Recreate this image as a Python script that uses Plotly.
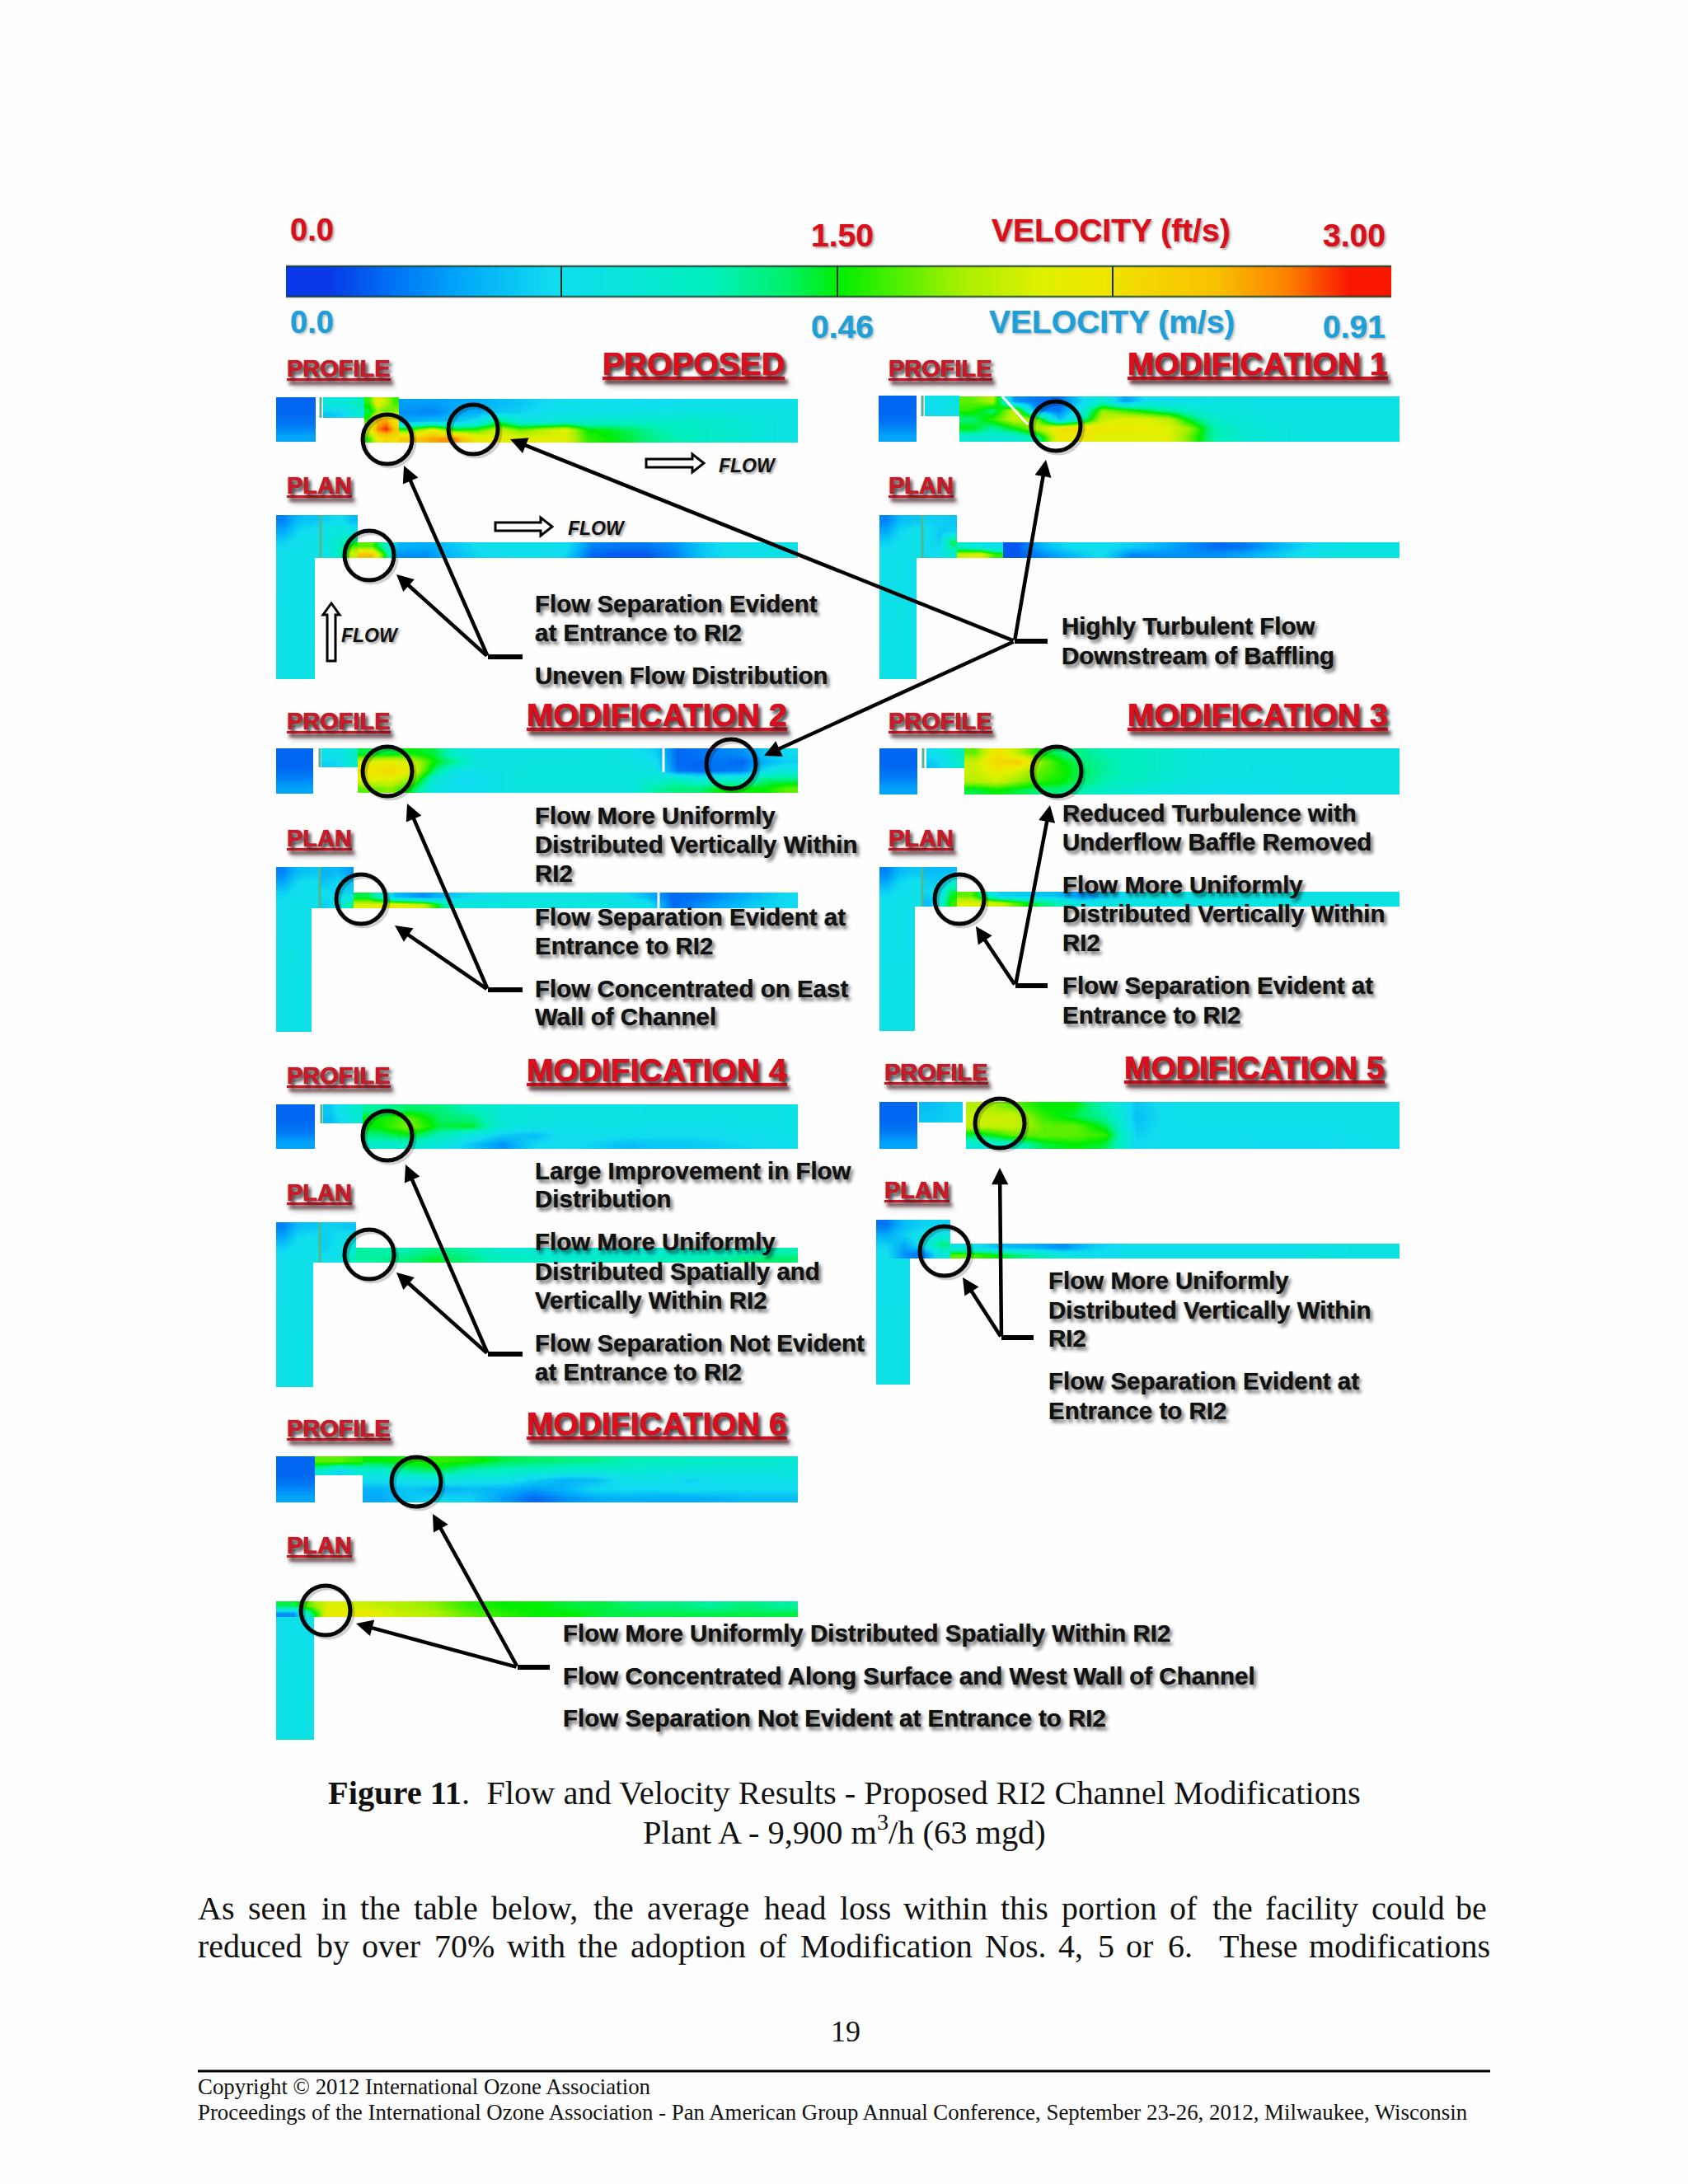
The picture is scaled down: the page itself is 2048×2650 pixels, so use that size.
import plotly.graph_objects as go
import numpy as np

# velocity colour scale, ft/s normalised by 3.00
COLORSCALE = [[0, "#0838e8"], [0.06, "#0070f4"], [0.13, "#00a8fa"], [0.22, "#10dcf0"], [0.3, "#08e8d8"], [0.38, "#00f0b8"],
              [0.45, "#00f068"], [0.5, "#00ee00"], [0.62, "#a8f000"], [0.7, "#e0f000"], [0.76, "#f0e400"], [0.87, "#f8c000"],
              [0.94, "#fc8000"], [1, "#f81800"]]

BAR_VALUES = [[0, .25, .5, .75, 1, 1.25, 1.5, 1.75, 2, 2.25, 2.5, 2.75, 3]]
INLET = [[0.15, 0.15], [0.15, 0.15], [0.22, 0.22], [0.38, 0.38]]
PLAN_INLET = [[.25, .5, .55], [.4, .65, .7], [.6, .7, .75], [.7, .75, .75]]
PLAN_STEM = [[0.72, 0.76, 0.72], [0.76, 0.78, 0.76]]

P0_CONN = [[.9, .85, 1.1], [.55, .65, .9]]
P0_RISER = [[1.6, 2.2, 1.9, 1.6], [1.4, 1.8, 1.7, 1.8], [1.6, 2.6, 2.7, 2.2], [2.2, 2.8, 3.0, 2.6], [1.6, 2.2, 2.4, 2.3]]
P0_MAIN = [[.35, .35, .4, .4, .5, .55, .65, .7, .7, .7, .7, .65, .7, .75, .75, .75, .75, .75],
           [.3, .25, .4, .4, .55, .6, .7, .75, .75, .75, .8, .8, .85, .85, .85, .8, .8, .8],
           [.4, .5, .5, .7, 1.3, .9, .85, .9, .95, 1.0, 1.0, 1.0, 1.0, 1.0, .95, .9, .85, .8],
           [1.6, 2.1, 1.5, 1.6, 2.0, 1.7, 1.9, 2.1, 1.5, 1.45, 1.35, 1.2, 1.1, 1.05, 1.0, .95, .85, .8],
           [2.5, 2.7, 2.8, 2.2, 2.2, 2.1, 2.1, 2.1, 1.6, 1.5, 1.4, 1.25, 1.15, 1.05, 1.0, .95, .85, .8]]
P0_PLANCONN = [[.6, .7, .5], [.8, .9, .8], [.85, 1.0, 1.4], [.8, 1.1, 2.0]]
P0_CHAN = [[1.7, .45, .4, .55, .7, .75, .75, .7, .25, .2, .2, .3, .55, .7, .75, .75],
           [2.6, .3, .3, .5, .65, .7, .7, .65, .15, .1, .1, .25, .55, .7, .75, .75]]

M1_CONN = [[.7, .8], [.65, .75]]
M1_MAIN = [[1.7, 1.9, .3, .2, .15, .6, 1.0, .35, .7, .7, .75, .8, .8, .75, .75, .75, .75, .75, .75, .75],
           [1.6, 1.3, 2.0, .25, .2, .8, 1.8, 1.6, 1.4, 1.2, 1.0, .85, .85, .8, .8, .8, .8, .8, .8, .8],
           [1.3, 1.6, 2.0, 1.8, .5, 1.1, 2.0, 2.1, 2.1, 1.95, 1.4, 1.05, .9, .85, .8, .8, .8, .8, .8, .8],
           [1.5, 1.2, 1.5, 1.9, 2.3, 2.4, 2.2, 2.2, 2.15, 2.1, 1.8, 1.2, 1.0, .9, .85, .8, .8, .8, .8, .8],
           [.95, .9, .9, 1.2, 2.2, 2.2, 2.1, 2.1, 2.1, 2.1, 1.7, 1.2, 1.0, .9, .85, .8, .8, .8, .8, .8]]
M1_PLANCONN = [[.6, .6, .55], [.7, .55, .6], [.65, .6, 1.4], [.65, .7, 1.0]]
M1_CHAN_A = [[1.0, .8, .7], [2.0, 2.1, 1.6]]
M1_CHAN_B = [[.1, .5, .7, .7, .6, .45, .3, .15, .2, .4, .6, .75, .8, .8],
             [.1, .3, .5, .7, .25, .3, .3, .3, .4, .55, .7, .8, .8, .8]]

M2_CONN = [[.75, .75, 1.0], [.6, .65, 1.0]]
M2_MAIN = [[1.4, 1.4, 1.5, 1.4, .95, .8, .8, .8, .8, .8, .85, .85, .7, .6, .15, .2, .25, .3, .55, .65],
           [2.1, 2.2, 2.0, 1.5, 1.2, .85, .8, .8, .85, .85, .85, .85, .8, .7, .15, .15, .2, .15, .45, .6],
           [2.3, 2.4, 2.1, 1.3, .75, .75, .8, .85, .85, .85, .85, .85, .85, .8, .2, .15, .2, .25, .7, .85],
           [2.1, 2.1, 1.8, .9, .65, .65, .8, .85, .85, .85, .85, .85, .85, .95, 1.1, .9, 1.0, 1.0, 1.3, 1.3],
           [1.7, 1.8, 1.4, .8, .7, .7, .8, .85, .85, .85, .85, .85, .85, 1.2, 1.3, 1.3, 1.5, 1.5, 1.5, 1.7]]
M2_PLANCONN = [[.45, .5, .35], [.55, .65, .55], [.7, .6, .6], [.6, .7, 1.2]]
M2_CHAN = [[1.4, .5, .3, .55, .7, .8, .8, .8, .8, .75, .5, .15, .2, .35, .5, .65],
           [2.1, 2.2, 2.0, 1.0, .85, .85, .85, .85, .85, .8, .8, .15, .3, .45, .6, .65]]

M3_CONN = [[.7, .85, 1.1], [.55, .7, 1.0]]
M3_MAIN = [[1.7, 2.3, 1.9, 1.5, 1.3, 1.25, 1.15, 1.1, 1.05, .95, .85, .8, .78, .78, .78, .78, .78, .78, .78, .78],
           [2.0, 2.4, 2.5, 1.8, 1.5, 1.3, 1.2, 1.1, 1.05, .95, .85, .82, .8, .78, .78, .78, .78, .78, .78, .78],
           [2.0, 2.2, 2.0, 1.7, 1.55, 1.35, 1.2, 1.1, 1.05, .95, .85, .8, .8, .78, .78, .78, .78, .78, .78, .78],
           [1.9, 2.0, 1.8, 1.6, 1.5, 1.3, 1.15, 1.05, 1.0, .9, .85, .78, .78, .75, .75, .78, .78, .78, .78, .78],
           [1.4, 1.5, 1.4, 1.3, 1.3, 1.15, 1.05, .95, .85, .8, .75, .7, .7, .7, .75, .75, .75, .78, .78, .78]]
M3_PLANCONN = [[.5, .5, .5], [.6, .55, .9], [.65, .7, 1.4], [.5, .9, 1.6]]
M3_CHAN = [[1.7, .6, .55, .5, .3, .55, .75, .8, .8, .8, .8, .8, .8, .8, .8, .8],
           [2.1, 2.0, 1.5, 1.2, .8, .8, .8, .8, .8, .8, .8, .8, .8, .8, .8, .8]]

M4_CONN = [[.55, .8, 1.0], [.5, .7, .9]]
M4_MAIN = [[1.2, 1.35, 1.3, 1.1, .9, .85, .8, .8, .8, .78, .78, .78, .78, .78],
           [1.5, 1.7, 1.35, 1.3, .9, .85, .8, .8, .8, .78, .78, .78, .78, .78],
           [1.5, 1.8, 1.4, 1.45, .9, .75, .75, .78, .75, .72, .72, .72, .75, .78],
           [1.3, 1.45, 1.1, .8, .55, .5, .7, .7, .68, .65, .65, .68, .7, .75],
           [1.0, 1.0, .85, .55, .3, .65, .7, .6, .5, .55, .55, .6, .65, .7]]
M4_PLANCONN = [[.6, .6, .55], [.6, .7, .75], [.6, .75, .9], [.7, .75, 1.1]]
M4_CHAN = [[1.2, 1.15, 1.3, 1.2, 1.0, .95, .9, .95, .9, .95, 1.0, 1.05, 1.1, 1.15],
           [1.2, 1.3, 1.45, 1.3, 1.1, 1.05, 1.0, 1.0, 1.05, 1.1, 1.15, 1.2, 1.3, 1.35]]

M5_CONN = [[.5, .6], [.55, .6]]
M5_MAIN = [[1.9, 1.7, 1.5, 1.5, 1.1, .55, .7, .75, .75, .75, .75, .75, .75, .75],
           [2.0, 2.0, 1.6, 1.4, 1.2, .5, .7, .75, .75, .75, .75, .75, .75, .75],
           [2.0, 2.0, 1.7, 1.7, 1.4, .55, .7, .72, .72, .72, .72, .72, .75, .75],
           [1.4, 1.7, 1.7, 1.7, 1.6, .6, .7, .7, .7, .7, .7, .7, .72, .75],
           [.9, 1.0, 1.4, 1.5, 1.4, .65, .7, .7, .7, .65, .65, .65, .7, .72]]
M5_PLANTOP = [[.2, .5, .6, .6], [.4, .6, .75, .8], [.6, .4, .8, 1.3], [.7, .3, .2, .9]]
M5_CHAN = [[.8, .5, .45, .3, .6, .7, .7, .7, .7, .7, .7, .75, .8, .8],
           [1.7, 1.5, 1.2, .9, .7, .7, .7, .7, .7, .7, .75, .8, .8, .8]]

M6_CONN = [[1.7, 1.7, 1.6], [1.0, .6, .9]]
M6_MAIN = [[1.5, 1.55, 1.6, 1.55, 1.4, 1.35, 1.3, 1.25, 1.15, 1.1, 1.05, 1.0, 1.0, .95],
           [1.0, 1.3, 1.4, 1.15, 1.1, 1.05, 1.0, .95, .95, .9, .9, .85, .85, .85],
           [.7, .75, .85, .75, .75, .6, .45, .5, .75, .75, .6, .75, .75, .75],
           [.45, .55, .4, .5, .45, .35, .45, .65, .65, .65, .7, .65, .65, .65],
           [.4, .55, .65, .6, .35, .15, .3, .4, .45, .4, .4, .45, .5, .5]]
M6_CHAN = [[1.4, 2.1, 2.0, 1.9, 1.8, 1.6, 1.5, 1.5, 1.4, 1.4, 1.3, 1.3, 1.2, 1.3, 1.2],
           [.3, 2.2, 2.2, 2.0, 1.9, 1.7, 1.6, 1.5, 1.5, 1.4, 1.4, 1.4, 1.4, 1.4, 1.4]]

# block extents: field, x0, x1, y0, y1
BLOCKS = [
    (BAR_VALUES, 347, 1688, 323, 360),
    (INLET, 335, 383, 482, 536), (P0_CONN, 392, 442, 482, 507), (P0_RISER, 442, 484, 482, 537), (P0_MAIN, 484, 968, 484, 537),
    (PLAN_STEM, 335, 382, 677, 824), (PLAN_INLET, 335, 388, 625, 677), (P0_PLANCONN, 390, 434, 625, 677), (P0_CHAN, 434, 968, 658, 677),
    (INLET, 1066, 1112, 480, 536), (M1_CONN, 1122, 1164, 480, 505), (M1_MAIN, 1164, 1698, 481, 536),
    (PLAN_STEM, 1067, 1112, 677, 824), (PLAN_INLET, 1067, 1118, 625, 677), (M1_PLANCONN, 1120, 1161, 625, 677),
    (M1_CHAN_A, 1161, 1217, 658, 677), (M1_CHAN_B, 1217, 1698, 658, 677),
    (INLET, 335, 380, 908, 963), (M2_CONN, 390, 434, 908, 931), (M2_MAIN, 434, 968, 908, 962),
    (PLAN_STEM, 335, 378, 1102, 1252), (PLAN_INLET, 335, 387, 1052, 1102), (M2_PLANCONN, 389, 429, 1052, 1102), (M2_CHAN, 429, 968, 1083, 1102),
    (INLET, 1067, 1113, 908, 964), (M3_CONN, 1124, 1170, 908, 932), (M3_MAIN, 1170, 1698, 908, 964),
    (PLAN_STEM, 1067, 1110, 1100, 1251), (PLAN_INLET, 1067, 1118, 1052, 1100), (M3_PLANCONN, 1120, 1161, 1052, 1100), (M3_CHAN, 1161, 1698, 1082, 1100),
    (INLET, 335, 382, 1340, 1394), (M4_CONN, 392, 440, 1340, 1363), (M4_MAIN, 440, 968, 1340, 1394),
    (PLAN_STEM, 335, 380, 1532, 1683), (PLAN_INLET, 335, 387, 1483, 1532), (M4_PLANCONN, 389, 432, 1483, 1532), (M4_CHAN, 432, 968, 1514, 1532),
    (INLET, 1067, 1113, 1337, 1394), (M5_CONN, 1115, 1168, 1337, 1362), (M5_MAIN, 1172, 1698, 1337, 1394),
    (PLAN_STEM, 1063, 1104, 1527, 1680), (M5_PLANTOP, 1063, 1153, 1480, 1527), (M5_CHAN, 1153, 1698, 1509, 1527),
    (INLET, 335, 382, 1767, 1823), (M6_CONN, 382, 440, 1767, 1790), (M6_MAIN, 440, 968, 1767, 1823),
    (PLAN_STEM, 335, 381, 1962, 2111), (M6_CHAN, 335, 968, 1943, 1962),
]

CIRCLES = [(470, 533), (574, 521), (448, 674), (1281, 517), (470, 936), (887, 927), (438, 1091), (1282, 936), (1164, 1091),
           (470, 1378), (448, 1522), (1213, 1363), (1146, 1518), (505, 1798), (395, 1954)]
# callouts: start x, start y, head x, head y
ARROWS = [(592, 797, 490, 565), (592, 797, 481, 697), (1231, 778, 619, 533), (1231, 778, 1269, 558), (1231, 778, 927, 917),
          (592, 1201, 494, 975), (592, 1201, 479, 1123), (1232, 1196, 1274, 977), (1232, 1196, 1184, 1124),
          (592, 1643, 492, 1413), (592, 1643, 481, 1544), (1215, 1623, 1213, 1417), (1215, 1623, 1168, 1550),
          (628, 2023, 525, 1837), (628, 2023, 432, 1970)]
BARS = [(592, 634, 797), (1231, 1271, 778), (592, 634, 1201), (1232, 1271, 1196), (592, 634, 1643), (1215, 1254, 1623), (628, 667, 2023)]
BAR_TICKS = [681, 1016, 1350]
SEP_LINES = [(389, 482, 507), (1119, 480, 505), (388, 908, 931), (1120, 908, 932), (390, 1340, 1363),
             (389, 625, 677), (1119, 625, 677), (388, 1052, 1102), (1119, 1052, 1100), (388, 1483, 1532)]
RED_LABELS = [("0.0", 353, 279, 38), ("1.50", 985, 285, 39), ("VELOCITY (ft/s)", 1204, 279, 39), ("3.00", 1606, 285, 39)]
BLUE_LABELS = [("0.0", 353, 391, 38), ("0.46", 985, 396, 39), ("VELOCITY (m/s)", 1201, 390, 39), ("0.91", 1606, 396, 39)]
HEADERS = [("PROPOSED", 732, 441), ("MODIFICATION 1", 1369, 441), ("MODIFICATION 2", 640, 867), ("MODIFICATION 3", 1369, 867),
           ("MODIFICATION 4", 640, 1298), ("MODIFICATION 5", 1365, 1295), ("MODIFICATION 6", 640, 1727)]
SUBHEADS = [("PROFILE", 349, 447), ("PLAN", 349, 589), ("PROFILE", 1079, 447), ("PLAN", 1079, 589),
            ("PROFILE", 349, 875), ("PLAN", 349, 1017), ("PROFILE", 1079, 875), ("PLAN", 1079, 1017),
            ("PROFILE", 349, 1305), ("PLAN", 349, 1447), ("PROFILE", 1074, 1301), ("PLAN", 1074, 1444),
            ("PROFILE", 349, 1733), ("PLAN", 349, 1875)]
NOTES = [("Flow Separation Evident", 650, 732), ("at Entrance to RI2", 650, 767), ("Uneven Flow Distribution", 650, 819),
         ("Highly Turbulent Flow", 1289, 759), ("Downstream of Baffling", 1289, 795),
         ("Flow More Uniformly", 650, 989), ("Distributed Vertically Within", 650, 1024), ("RI2", 650, 1059),
         ("Flow Separation Evident at", 650, 1112), ("Entrance to RI2", 650, 1147),
         ("Flow Concentrated on East", 650, 1199), ("Wall of Channel", 650, 1233),
         ("Reduced Turbulence with", 1290, 986), ("Underflow Baffle Removed", 1290, 1021),
         ("Flow More Uniformly", 1290, 1073), ("Distributed Vertically Within", 1290, 1108), ("RI2", 1290, 1143),
         ("Flow Separation Evident at", 1290, 1195), ("Entrance to RI2", 1290, 1231),
         ("Large Improvement in Flow", 650, 1420), ("Distribution", 650, 1454),
         ("Flow More Uniformly", 650, 1506), ("Distributed Spatially and", 650, 1542), ("Vertically Within RI2", 650, 1577),
         ("Flow Separation Not Evident", 650, 1629), ("at Entrance to RI2", 650, 1664),
         ("Flow More Uniformly", 1273, 1553), ("Distributed Vertically Within", 1273, 1589), ("RI2", 1273, 1623),
         ("Flow Separation Evident at", 1273, 1675), ("Entrance to RI2", 1273, 1711),
         ("Flow More Uniformly Distributed Spatially Within RI2", 684, 1981),
         ("Flow Concentrated Along Surface and West Wall of Channel", 684, 2033),
         ("Flow Separation Not Evident at Entrance to RI2", 684, 2084)]
FLOW_LABELS = [(873, 565), (690, 641), (415, 771)]
WHITE_LINES = [(1216, 481, 1247, 515), (805, 908, 805, 937), (799, 1083, 799, 1102)]
PARA1 = [("As", 241), ("seen", 302), ("in", 391), ("the", 438), ("table", 503), ("below,", 597), ("the", 721), ("average", 786),
         ("head", 928), ("loss", 1020), ("within", 1097), ("this", 1215), ("portion", 1289), ("of", 1420), ("the", 1472),
         ("facility", 1536), ("could", 1665), ("be", 1767)]
PARA2 = [("reduced", 241), ("by", 385), ("over", 440), ("70%", 528), ("with", 616), ("the", 702), ("adoption", 766), ("of", 922),
         ("Modification", 972), ("Nos.", 1196), ("4,", 1285), ("5", 1333), ("or", 1367), ("6.", 1418), ("These", 1480),
         ("modifications", 1589)]

fig = go.Figure()
for z, x0, x1, y0, y1 in BLOCKS:
    arr = np.array(z)
    fig.add_trace(go.Heatmap(z=z, x=np.linspace(x0, x1, arr.shape[1] + 1), y=np.linspace(y0, y1, arr.shape[0] + 1),
                             zmin=0, zmax=3, zsmooth="best", colorscale=COLORSCALE, showscale=False, hoverinfo="skip"))

shapes, ann = [], []
for x0, y0, x1, y1 in WHITE_LINES:
    shapes.append(dict(type="line", x0=x0, y0=y0, x1=x1, y1=y1, line=dict(color="white", width=3)))
for x, y0, y1 in SEP_LINES:
    shapes.append(dict(type="line", x0=x, x1=x, y0=y0, y1=y1, line=dict(color="#50b890", width=3)))
for t in BAR_TICKS:
    shapes.append(dict(type="line", x0=t, x1=t, y0=323, y1=360, line=dict(color="#15301a", width=2)))
for y in (323, 360):
    shapes.append(dict(type="line", x0=347, x1=1688, y0=y, y1=y, line=dict(color="rgba(20,60,40,0.75)", width=2.5)))
for cx, cy in CIRCLES:
    for off, col in ((3, "rgba(0,0,0,0.18)"), (0, "#050505")):
        shapes.append(dict(type="circle", x0=cx - 30 + off, x1=cx + 30 + off, y0=cy - 30 + off, y1=cy + 30 + off, line=dict(color=col, width=5)))
for x0, x1, y in BARS:
    shapes.append(dict(type="line", x0=x0, x1=x1, y0=y, y1=y, line=dict(color="black", width=6)))


def block_arrow(x, y, length, horizontal=True):
    """outlined hollow arrow"""
    if horizontal:
        p = [(x, y - 5), (x + length - 14, y - 5), (x + length - 14, y - 11), (x + length, y), (x + length - 14, y + 11), (x + length - 14, y + 5), (x, y + 5)]
    else:
        p = [(x - 5, y), (x - 5, y - length + 14), (x - 10, y - length + 14), (x, y - length), (x + 10, y - length + 14), (x + 5, y - length + 14), (x + 5, y)]
    path = "M " + " L ".join(f"{a} {b}" for a, b in p) + " Z"
    shapes.append(dict(type="path", path=path, fillcolor="white", line=dict(color="black", width=3)))


block_arrow(784, 562, 70)
block_arrow(601, 639, 69)
block_arrow(402, 802, 70, horizontal=False)

for sx, sy, hx, hy in ARROWS:
    ann.append(dict(x=hx, y=hy, ax=sx, ay=sy, xref="x", yref="y", axref="x", ayref="y", text="", showarrow=True,
                    arrowhead=2, arrowsize=0.9, arrowwidth=4.5, arrowcolor="black"))


def text(t, x, y, size, color="black", family="Liberation Sans", bold=True, anchor="left", shadow="none", italic=False, line=None):
    font = dict(family=family, size=size, color=color, shadow=shadow, weight=700 if bold else 400, style="italic" if italic else "normal")
    if line:
        font["lineposition"] = line
    ann.append(dict(x=x - 3 if anchor == "left" else x, y=y, xref="x", yref="y", text=t, showarrow=False, xanchor=anchor, yanchor="middle", font=font))


SH = "0 0 1px rgba(0,0,0,0.6), 3px 4px 4px rgba(0,0,0,0.6)"
SHR = "0 0 1px rgba(200,0,20,0.6), 3px 4px 4px rgba(0,0,0,0.5)"
for t, x, y, s in RED_LABELS:
    text(t, x, y, s, "#d8101c", shadow="0 0 1px rgba(216,16,28,0.6), 2px 2px 3px rgba(0,0,0,0.35)")
for t, x, y, s in BLUE_LABELS:
    text(t, x, y, s, "#1f9fd8", shadow="0 0 1px rgba(31,159,216,0.6), 2px 2px 3px rgba(0,0,0,0.25)")
for t, x, y in HEADERS:
    text(t, x, y, 39, "#d81020", shadow=SHR, line="under")
for t, x, y in SUBHEADS:
    text(t, x, y, 29, "#c81a28", shadow=SHR, line="under")
for t, x, y in NOTES:
    text(t, x, y, 29.5, "#111111", shadow=SH)
for x, y in FLOW_LABELS:
    text("FLOW", x, y, 23, "#111111", italic=True, shadow="2px 2px 3px rgba(0,0,0,0.4)")

SERIF = "Liberation Serif"
ann.append(dict(x=1024, y=2175, xref="x", yref="y", showarrow=False, xanchor="center", yanchor="middle",
                text="<b>Figure 11</b>.  Flow and Velocity Results - Proposed RI2 Channel Modifications",
                font=dict(family=SERIF, size=40.4, color="#111")))
ann.append(dict(x=1024, y=2220, xref="x", yref="y", showarrow=False, xanchor="center", yanchor="middle",
                text="Plant A - 9,900 m<sup>3</sup>/h (63 mgd)", font=dict(family=SERIF, size=40.4, color="#111")))
for t, x in PARA1:
    text(t, x, 2315, 40, "#111", SERIF, False)
for t, x in PARA2:
    text(t, x, 2361, 40, "#111", SERIF, False)
text("19", 1026, 2465, 36, "#111", SERIF, False, anchor="center")
text("Copyright © 2012 International Ozone Association", 241, 2532, 26.85, "#111", SERIF, False)
text("Proceedings of the International Ozone Association - Pan American Group Annual Conference, September 23-26, 2012, Milwaukee, Wisconsin",
     241, 2563, 26.85, "#111", SERIF, False)
shapes.append(dict(type="line", x0=240, x1=1808, y0=2513, y1=2513, line=dict(color="black", width=3)))

fig.update_layout(width=2048, height=2650, margin=dict(l=0, r=0, t=0, b=0), paper_bgcolor="#fefefe", plot_bgcolor="#fefefe",
                  showlegend=False, shapes=shapes, annotations=ann,
                  xaxis=dict(range=[0, 2048], visible=False, fixedrange=True),
                  yaxis=dict(range=[2650, 0], visible=False, fixedrange=True))
fig.write_html("out.html", post_script="document.body.style.margin='0';", config={"displayModeBar": False})
